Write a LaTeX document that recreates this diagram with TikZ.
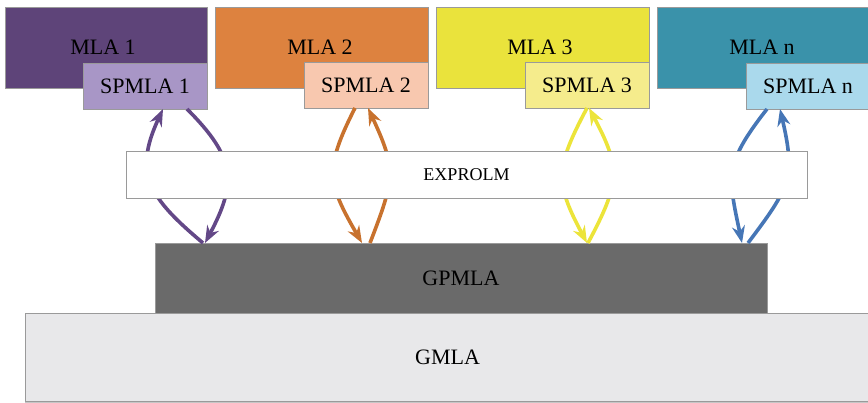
\documentclass[tikz,border=0pt]{standalone}
\usepackage{fontspec}
\setmainfont{Liberation Serif}
\usetikzlibrary{arrows.meta,shadows}

\definecolor{mlaA}{HTML}{5E4479}
\definecolor{spA}{HTML}{A896C6}
\definecolor{mlaB}{HTML}{DD823F}
\definecolor{spB}{HTML}{F8C8AF}
\definecolor{mlaC}{HTML}{EAE33C}
\definecolor{spC}{HTML}{F5EC8C}
\definecolor{mlaD}{HTML}{3A92AA}
\definecolor{spD}{HTML}{AAD9EC}
\definecolor{arA}{HTML}{634887}
\definecolor{arB}{HTML}{C8722E}
\definecolor{arC}{HTML}{ECE43A}
\definecolor{arD}{HTML}{4676B6}
\definecolor{gpfill}{HTML}{6A6A6A}
\definecolor{gmfill}{HTML}{E8E8EA}
\definecolor{edge}{HTML}{9A9A9A}

\tikzset{
  box/.style={draw=edge, line width=0.8pt, rectangle, inner sep=0pt, outer sep=0pt,
    text=black, align=center},
  bigfont/.style={font=\fontsize{22}{26}\selectfont},
  smallfont/.style={font=\fontsize{18}{22}\selectfont},
  link/.style={line width=3.6pt, looseness=1.3, -{Stealth[length=17pt,width=13pt]}},
}

\begin{document}
\begin{tikzpicture}[x=1pt,y=-1pt]
\useasboundingbox (0,0) rectangle (868,403);
\clip (0,0) rectangle (868,403);

% base layers
\node[box, fill=gmfill, minimum width=845, minimum height=88, bigfont,
      drop shadow={shadow xshift=0pt, shadow yshift=-2pt, opacity=0.45}]
  (gm) at (447.5,357) {GMLA};
\node[box, fill=gpfill, minimum width=612, minimum height=70, bigfont]
  (gp) at (461,278) {GPMLA};

% modules
\node[box, fill=mlaA, minimum width=202, minimum height=81, bigfont] (m1) at (106,47.5) {};
\node[bigfont] at (103,47) {MLA 1};
\node[box, fill=spA, minimum width=124, minimum height=46, bigfont] (s1) at (145,86) {SPMLA 1};

\node[box, fill=mlaB, minimum width=213, minimum height=81, bigfont] (m2) at (321.5,47.5) {};
\node[bigfont] at (320,47) {MLA 2};
\node[box, fill=spB, minimum width=124, minimum height=46, bigfont] (s2) at (366,85) {SPMLA 2};

\node[box, fill=mlaC, minimum width=213, minimum height=81, bigfont] (m3) at (542.5,47.5) {};
\node[bigfont] at (540,47) {MLA 3};
\node[box, fill=spC, minimum width=124, minimum height=46, bigfont] (s3) at (587,85) {SPMLA 3};

\node[box, fill=mlaD, minimum width=213, minimum height=81, bigfont] (m4) at (763.5,47.5) {};
\node[bigfont] at (762,47) {MLA n};
\node[box, fill=spD, minimum width=124, minimum height=46, bigfont] (s4) at (808,86) {SPMLA n};

% exchange loops between each module and the global layer
\draw[link, arA] ([xshift=48pt]gp.north west) to[out=140,in=-115] ([xshift=80pt]s1.south west);
\draw[link, arA] ([xshift=104pt]s1.south west) to[out=-45,in=62] ([xshift=50pt]gp.north west);

\draw[link, arB] ([xshift=51pt]s2.south west) to[out=-117,in=120] ([xshift=207pt]gp.north west);
\draw[link, arB] ([xshift=215pt]gp.north west) to[out=69,in=-65] ([xshift=64pt]s2.south west);

\draw[link, arC] ([xshift=62pt]s3.south west) to[out=-118,in=118] ([xshift=432pt]gp.north west);
\draw[link, arC] ([xshift=433pt]gp.north west) to[out=62,in=-62] ([xshift=64pt]s3.south west);

\draw[link, arD] ([xshift=21pt]s4.south west) to[out=-128,in=102] ([xshift=587pt]gp.north west);
\draw[link, arD] ([xshift=593pt]gp.north west) to[out=53,in=-77] ([xshift=34pt]s4.south west);

% middleware band over the loops
\node[box, fill=white, minimum width=681, minimum height=47, smallfont] (ex) at (466.5,174.5) {EXPROLM};
\end{tikzpicture}
\end{document}
